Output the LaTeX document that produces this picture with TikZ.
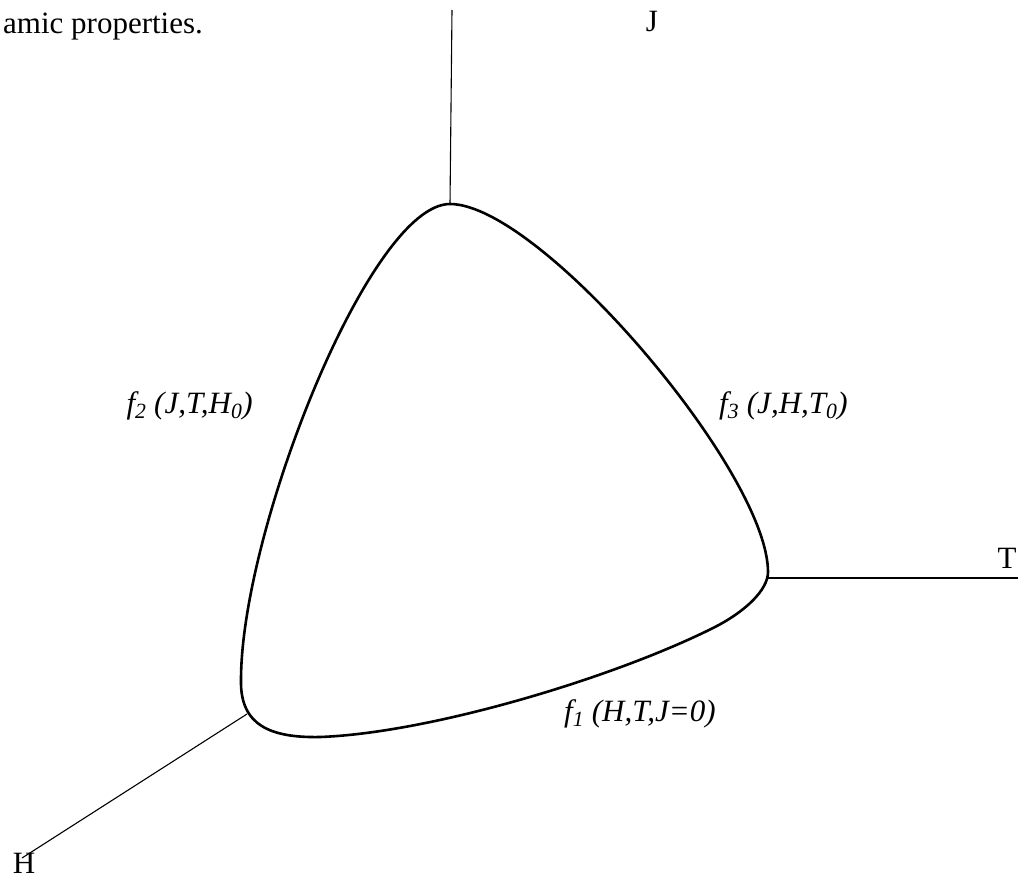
\documentclass[tikz,border=0pt]{standalone}
\usepackage{fontspec}
\setmainfont{Liberation Serif}
\begin{document}
\begin{tikzpicture}[x=1pt,y=-1pt,
  axis/.style={line width=1.1pt},
  surface/.style={line width=2.6pt,line join=round},
  lbl/.style={inner sep=0pt,font=\fontsize{31}{36}\selectfont},
  flbl/.style={inner sep=0pt,font=\fontsize{31}{36}\selectfont\itshape}]
\useasboundingbox (0,0) rectangle (1022,878);
% axis end points
\coordinate (jtop) at (452,10);
\coordinate (jbase) at (450,204);
\coordinate (tbase) at (768,578);
\coordinate (tend) at (1018,578);
\coordinate (hbase) at (247,714);
\coordinate (hend) at (22,858);
% axes
\draw[axis] (jtop) -- (jbase);
\draw[axis] (tbase) -- (tend);
\draw[axis] (hbase) -- (hend);
% closed surface
\draw[surface] (450,204)
  .. controls (540,204) and (768,472) .. (768,572)
  .. controls (768,590) and (745,612) .. (713,628)
  .. controls (613,678) and (430,733) .. (320,737)
  .. controls (270,738) and (240,725) .. (241,680)
  .. controls (241,530) and (370,204) .. (450,204) -- cycle;
% labels
\node[lbl,anchor=base west] (cap) at (3,33) {amic properties.};
\node[lbl,anchor=base] (J) at (652,31) {J};
\node[lbl,anchor=base] (T) at (1007,568) {T};
\node[lbl,anchor=base] (H) at (24,873) {H};
\node[flbl,anchor=base east] (f2) at (253,413) {f\textsubscript{2} (J,T,H\textsubscript{0})};
\node[flbl,anchor=base west] (f3) at (719,413) {f\textsubscript{3} (J,H,T\textsubscript{0})};
\node[flbl,anchor=base west] (f1) at (564,721) {f\textsubscript{1} (H,T,J=0)};
\end{tikzpicture}
\end{document}
